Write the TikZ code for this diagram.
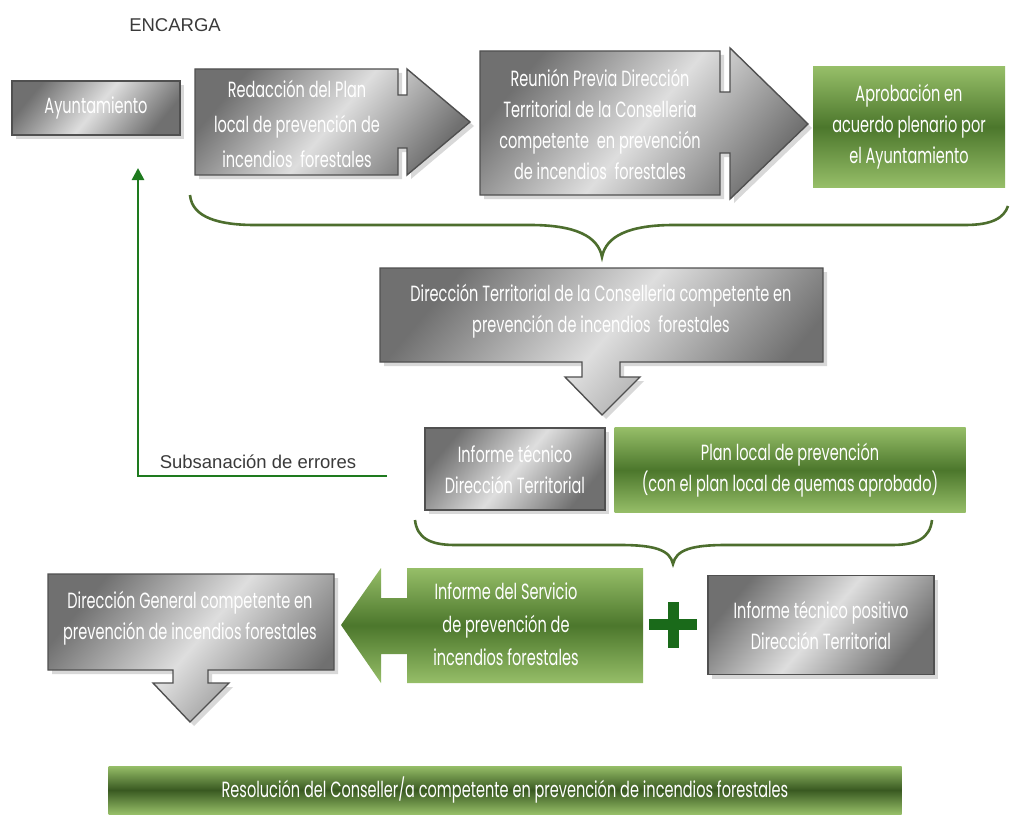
\documentclass[tikz,border=0pt]{standalone}
\usepackage{fontspec}
\setmainfont{Liberation Sans}
\newfontfamily\boxfont[FakeStretch=0.66]{Poppins}
\usetikzlibrary{shadows,arrows.meta}

\definecolor{graydark}{HTML}{707070}
\definecolor{graylight}{HTML}{DEDEDE}
\definecolor{grayline}{HTML}{505050}
\definecolor{greenlight}{HTML}{96BE68}
\definecolor{greendark}{HTML}{4C772C}
\definecolor{bracegreen}{HTML}{4D6E2E}
\definecolor{linegreen}{HTML}{1E7A1E}
\definecolor{plusgreen}{HTML}{1A6A1A}
\definecolor{labelgray}{HTML}{3A3A3A}

\begin{document}
\begin{tikzpicture}[x=1pt,y=-1pt,
	txt/.style={text=white,font=\boxfont\fontsize{22}{31}\selectfont,align=center},
	gshade/.style={left color=graydark,right color=graydark,middle color=graylight,shading angle=50},
	grayshape/.style={gshade,draw=grayline,line width=1.4pt,
		drop shadow={shadow xshift=4pt,shadow yshift=-4pt,fill=black!30,opacity=0.5}},
	graybox/.style={grayshape,txt,inner sep=0pt},
	gnshade/.style={top color=greenlight,bottom color=greenlight,middle color=greendark},
	greenbox/.style={gnshade,txt,inner sep=0pt},
	brace/.style={draw=bracegreen,line width=2.6pt},
	label/.style={text=labelgray,font=\fontsize{18.5}{20}\selectfont}]
	\useasboundingbox (0,0) rectangle (1010,816);
	
	\node[label] (enc) at (175,25) {ENCARGA};
	\node[graybox,minimum width=168,minimum height=54] (ayto) at (96,108) {Ayuntamiento};
	
	% first two block arrows
	\path[grayshape] (195,69) -- (398,69) -- (398,95) -- (407,95) -- (407,69) -- (470,122)
		-- (407,175) -- (407,148) -- (398,148) -- (398,175) -- (195,175) -- cycle;
	\node[txt,font=\boxfont\fontsize{22}{35}\selectfont] (redac) at (297,124)
		{Redacción del Plan\\local de prevención de\\incendios\ \ forestales};
	\path[grayshape] (480,51) -- (720,51) -- (720,92) -- (730,92) -- (730,48) -- (808,124)
		-- (730,199) -- (730,153) -- (720,153) -- (720,195) -- (480,195) -- cycle;
	\node[txt] (reun) at (600,124)
		{Reunión Previa Dirección\\Territorial de la Conselleria\\competente\ \ en prevención\\de incendios\ \ forestales};
	\node[greenbox,minimum width=192,minimum height=120] (aprob) at (909,127)
		{Aprobación en\\acuerdo plenario por\\el Ayuntamiento};
	
	\draw[brace] (190,195) .. controls (192,218) and (220,225) .. (255,225) -- (530,225)
		.. controls (575,225) and (598,236) .. (602,257)
		.. controls (606,236) and (629,225) .. (674,225) -- (965,225)
		.. controls (992,225) and (1004,218) .. (1008,206);
	
	\path[grayshape] (380,268) -- (823,268) -- (823,362) -- (620,362) -- (620,377) -- (640,377)
		-- (602,415) -- (565,377) -- (582,377) -- (582,362) -- (380,362) -- cycle;
	\node[txt] (dirterr) at (601,311)
		{Dirección Territorial de la Conselleria competente en\\prevención de incendios\ \ forestales};
	
	\node[graybox,minimum width=180,minimum height=82] (inftec) at (515,469)
		{Informe técnico\\Dirección Territorial};
	\node[greenbox,minimum width=351,minimum height=85] (plan) at (790,470)
		{Plan local de prevención\\(con el plan local de quemas aprobado)};
	
	% vuelta al ayuntamiento
	\coordinate (fbstart) at (387,476);
	\coordinate (fbtip) at (138,168);
	\draw[linegreen,line width=2.6pt,-{Triangle[length=12pt,width=12pt]}] (fbstart) -| (fbtip);
	\node[label] (subs) at (258,462) {Subsanación de errores};
	
	\draw[brace] (415,520) .. controls (417,538) and (430,545) .. (455,545) -- (620,545)
		.. controls (655,545) and (670,550) .. (673,564)
		.. controls (676,550) and (691,545) .. (726,545) -- (892,545)
		.. controls (917,545) and (930,538) .. (932,520);
	
	\path[grayshape] (48,574) -- (334,574) -- (334,670) -- (208,670) -- (208,683) -- (229,683)
		-- (190,722) -- (153,683) -- (173,683) -- (173,670) -- (48,670) -- cycle;
	\node[txt] (dirgen) at (190,618)
		{Dirección General competente en\\prevención de incendios forestales};
	
	\path[gnshade] (643,568) -- (407,568) -- (407,598) -- (381,598) -- (381,568) -- (341,625)
		-- (381,683) -- (381,654) -- (407,654) -- (407,683) -- (643,683) -- cycle;
	\node[txt,font=\boxfont\fontsize{22}{33}\selectfont] (servicio) at (506,624)
		{Informe del Servicio\\de prevención de\\incendios forestales};
	
	\fill[plusgreen] (668,602) rectangle (679,648);
	\fill[plusgreen] (649,619) rectangle (697,630);
	
	\node[graybox,minimum width=226,minimum height=99] (positivo) at (821,625)
		{Informe técnico positivo\\Dirección Territorial};
	
	\node[greenbox,middle color=greendark!75!black,minimum width=793,minimum height=48] (resol) at (505,790)
		{Resolución del Conseller/a competente en prevención de incendios forestales};
\end{tikzpicture}
\end{document}
